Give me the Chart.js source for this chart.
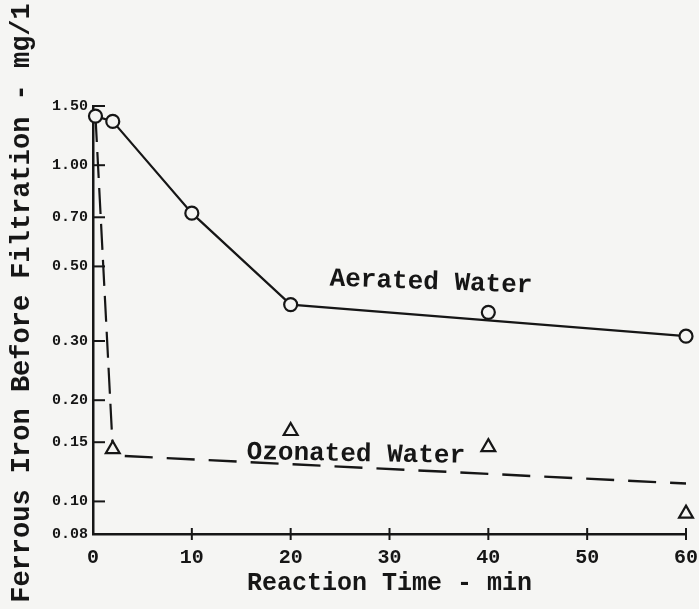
<!DOCTYPE html>
<html>
<head>
<meta charset="utf-8">
<script src="https://cdn.jsdelivr.net/npm/chart.js@4/dist/chart.umd.min.js"></script>
<style>
  html, body { margin: 0; padding: 0; background: #f5f5f3; }
  #c { display: block; }
</style>
</head>
<body>
<canvas id="c" width="699" height="609"></canvas>
<script>
// Reaction time (min) and ferrous iron remaining before filtration (mg/l)
const aeratedTime  = [0.25, 2, 10, 20, 40, 60];
const aeratedIron  = [1.40, 1.35, 0.72, 0.385, 0.365, 0.31];
// the smooth aerated curve skips the 40-min reading
const aeratedCurveIdx = [0, 1, 2, 3, 5];

const ozonatedTime = [2, 20, 40, 60];
const ozonatedIron = [0.143, 0.162, 0.145, 0.092];
// fitted trend for the ozonated series
const ozonatedTrendTime = [2, 60];
const ozonatedTrendIron = [0.137, 0.113];

const xTicks = [0, 10, 20, 30, 40, 50, 60];
const yTicks = [0.08, 0.10, 0.15, 0.20, 0.30, 0.50, 0.70, 1.00, 1.50];

const xTitle = 'Reaction Time - min';
const yTitle = 'Ferrous Iron Before Filtration - mg/1';
const seriesNames = ['Aerated Water', 'Ozonated Water'];

const INK = '#161616';
const PAPER = '#f5f5f3';
const FONT = '"Liberation Mono", "DejaVu Sans Mono", monospace';

const pts = (xs, ys) => xs.map((t, i) => ({ x: t, y: ys[i] }));

const aeratedPoints = pts(aeratedTime, aeratedIron);
const aeratedCurve = aeratedCurveIdx.map(i => aeratedPoints[i]);
const ozonatedPoints = pts(ozonatedTime, ozonatedIron);
// initial drop: from the raw-water reading to the first ozonated reading
const ozonatedDrop = [aeratedPoints[0], ozonatedPoints[0]];
const ozonatedTrend = pts(ozonatedTrendTime, ozonatedTrendIron);

const paperAndInk = {
  id: 'paperAndInk',
  beforeDraw(chart) {
    const c = chart.ctx;
    c.save();
    c.fillStyle = PAPER;
    c.fillRect(0, 0, chart.width, chart.height);
    c.restore();
  },
  afterDraw(chart) {
    const { ctx, scales: { x, y } } = chart;
    const seg = (x1, y1, x2, y2) => { ctx.beginPath(); ctx.moveTo(x1, y1); ctx.lineTo(x2, y2); ctx.stroke(); };
    ctx.save();
    ctx.strokeStyle = INK;
    ctx.lineWidth = 2;
    ctx.lineCap = 'butt';
    // inward tick marks on the y axis
    yTicks.slice(1).forEach(v => {
      const py = y.getPixelForValue(v);
      seg(x.left, py, x.left + 12, py);
    });
    // ticks crossing the x axis
    xTicks.slice(1).forEach(v => {
      const px = x.getPixelForValue(v);
      seg(px, y.bottom - 6, px, y.bottom + 6);
    });

    ctx.fillStyle = INK;
    ctx.textAlign = 'center';
    ctx.textBaseline = 'middle';

    // curve labels
    ctx.font = 'bold 26px ' + FONT;
    ctx.save();
    ctx.translate(x.getPixelForValue(34.2), y.getPixelForValue(0.448));
    ctx.rotate(2 * Math.PI / 180);
    ctx.fillText(seriesNames[0], 0, 0);
    ctx.restore();

    ctx.save();
    ctx.translate(x.getPixelForValue(26.6), y.getPixelForValue(0.138));
    ctx.rotate(1 * Math.PI / 180);
    ctx.fillText(seriesNames[1], 0, 0);
    ctx.restore();

    // axis titles
    ctx.font = 'bold 25px ' + FONT;
    ctx.fillText(xTitle, (x.left + x.right) / 2, 584);

    ctx.save();
    ctx.font = 'bold 27px ' + FONT;
    ctx.translate(22, 303);
    ctx.rotate(-Math.PI / 2);
    ctx.fillText(yTitle, 0, 0);
    ctx.restore();

    ctx.restore();
  }
};

new Chart(document.getElementById('c'), {
  type: 'scatter',
  data: {
    datasets: [
      {
        label: seriesNames[0] + ' readings',
        data: aeratedPoints,
        showLine: false,
        pointStyle: 'circle',
        pointRadius: 6.5,
        pointBorderWidth: 2.2,
        pointBorderColor: INK,
        pointBackgroundColor: PAPER,
        clip: false,
        order: 0
      },
      {
        label: seriesNames[1] + ' readings',
        data: ozonatedPoints,
        showLine: false,
        pointStyle: 'triangle',
        pointRadius: 8,
        pointBorderWidth: 2.2,
        pointBorderColor: INK,
        pointBackgroundColor: PAPER,
        clip: false,
        order: 0
      },
      {
        label: seriesNames[0],
        data: aeratedCurve,
        showLine: true,
        borderColor: INK,
        borderWidth: 2.2,
        pointRadius: 0,
        tension: 0,
        clip: false,
        order: 1
      },
      {
        label: seriesNames[1] + ' drop',
        data: ozonatedDrop,
        showLine: true,
        borderColor: INK,
        borderWidth: 2.2,
        borderDash: [26, 10],
        pointRadius: 0,
        clip: false,
        order: 1
      },
      {
        label: seriesNames[1],
        data: ozonatedTrend,
        showLine: true,
        borderColor: INK,
        borderWidth: 2.4,
        borderDash: [28, 14],
        borderDashOffset: -12,
        pointRadius: 0,
        clip: false,
        order: 1
      }
    ]
  },
  options: {
    responsive: false,
    animation: false,
    layout: { padding: { top: 106, right: 13, left: 0, bottom: 0 } },
    plugins: { legend: { display: false }, tooltip: { enabled: false } },
    scales: {
      x: {
        type: 'linear',
        min: 0,
        max: 60,
        afterBuildTicks: s => { s.ticks = xTicks.map(v => ({ value: v })); },
        afterFit: s => { s.height = 75; s.paddingLeft = 0; s.paddingRight = 0; },
        grid: { display: false, drawTicks: false },
        border: { display: true, color: INK, width: 2.5 },
        ticks: {
          color: INK,
          padding: 12,
          autoSkip: false,
          maxRotation: 0,
          font: { family: FONT, size: 20, weight: 'bold' }
        }
      },
      y: {
        type: 'logarithmic',
        min: 0.08,
        max: 1.5,
        afterBuildTicks: s => { s.ticks = yTicks.map(v => ({ value: v })); },
        afterFit: s => { s.width = 93; s.paddingTop = 0; s.paddingBottom = 0; },
        grid: { display: false, drawTicks: false },
        border: { display: true, color: INK, width: 2.5 },
        ticks: {
          color: INK,
          padding: 5,
          autoSkip: false,
          font: { family: FONT, size: 15, weight: 'bold' },
          callback: v => Number(v).toFixed(2)
        }
      }
    }
  },
  plugins: [paperAndInk]
});
</script>
</body>
</html>
